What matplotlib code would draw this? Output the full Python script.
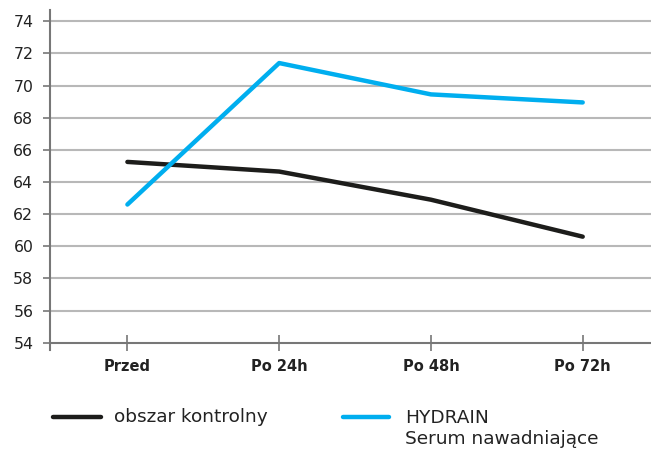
import matplotlib
matplotlib.use("Agg")
import matplotlib.pyplot as plt
from matplotlib.lines import Line2D

categories = ["Przed", "Po 24h", "Po 48h", "Po 72h"]
control = [65.25, 64.65, 62.9, 60.6]
hydrain = [62.6, 71.4, 69.45, 68.95]
yticks = [54, 56, 58, 60, 62, 64, 66, 68, 70, 72, 74]
label_control = "obszar kontrolny"
label_hydrain = "HYDRAIN\nSerum nawadniające"

plt.rcParams['font.family'] = ['DejaVu Sans']

W, H = 651, 449
fig = plt.figure(figsize=(W/100, H/100), dpi=100)
ax = fig.add_axes([50/W, 1-350/H, 1-50/W, 340/H])

x = list(range(len(categories)))
grid_c = "#b8b8b8"
for t in yticks[1:]:
    ax.axhline(t, color=grid_c, lw=1.5, zorder=1)

ax.plot(x, control, color="#1d1d1b", lw=3.2, solid_capstyle="round", zorder=3)
ax.plot(x, hydrain, color="#00aeef", lw=3.2, solid_capstyle="round", zorder=3)

for s in ["top", "right"]:
    ax.spines[s].set_visible(False)
ax.spines["left"].set_color("#777777")
ax.spines["left"].set_linewidth(1.5)
ax.spines["bottom"].set_position(("data", 54))
ax.spines["bottom"].set_color("#777777")
ax.spines["bottom"].set_linewidth(1.5)
ax.tick_params(axis="y", length=5, width=1.2, color="#777777", pad=7,
               labelsize=11.3, labelcolor="#222222")
ax.tick_params(axis="x", direction="inout", length=11.5, width=1.2, color="#777777", pad=6,
               labelsize=10.5, labelcolor="#222222")

ax.set_xlim(-0.51, 3.45)
ax.set_ylim(53.55, 74.7)
ax.set_yticks(yticks)
ax.set_xticks(x)
ax.set_xticklabels(categories, fontsize=10.5, fontweight="bold", color="#222222")
ax.set_yticklabels([str(t) for t in yticks], fontsize=11.3, color="#222222")

# legend
ly = 1 - 417/H
fig.add_artist(Line2D([53/W, 101/W], [ly, ly], color="#1d1d1b", lw=3.2, solid_capstyle="round"))
fig.text(114/W, ly, label_control, fontsize=13.3, color="#222222", va="center")
fig.add_artist(Line2D([343/W, 389/W], [ly, ly], color="#00aeef", lw=3.2, solid_capstyle="round"))
fig.text(405/W, 1-428.5/H, label_hydrain, fontsize=13.3, color="#222222", va="center", linespacing=1.15)

fig.savefig("out.png", dpi=100)
